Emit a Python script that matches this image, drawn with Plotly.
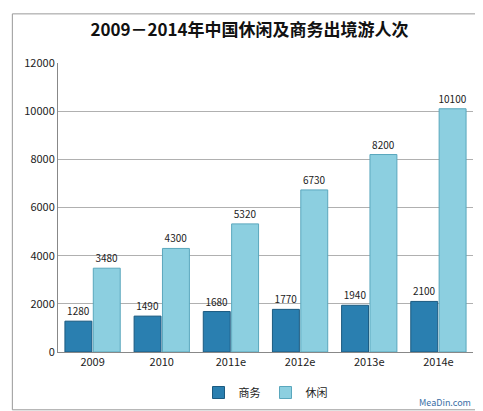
import plotly.graph_objects as go

years = ["2009", "2010", "2011e", "2012e", "2013e", "2014e"]
business = [1280, 1490, 1680, 1770, 1940, 2100]
leisure = [3480, 4300, 5320, 6730, 8200, 10100]

fig = go.Figure()
fig.add_trace(go.Bar(x=years, y=business, name="商务",
                     marker=dict(color="#2a7fb0", line=dict(color="#1b5a80", width=1)),
                     text=business, textposition="outside",
                     textfont=dict(size=10, color="#222")))
fig.add_trace(go.Bar(x=years, y=leisure, name="休闲",
                     marker=dict(color="#8ccfe0", line=dict(color="#5aa7bd", width=1)),
                     text=leisure, textposition="outside",
                     textfont=dict(size=10, color="#222")))

fig.update_layout(
    width=483, height=411,
    barmode="group", bargap=0.18, bargroupgap=0.05,
    uniformtext=dict(minsize=10, mode="show"),
    title=dict(text="<b>2009－2014年中国休闲及商务出境游人次</b>", x=0.5, y=0.96,
               font=dict(size=17, color="#111", family="Noto Sans CJK SC")),
    font=dict(family="Noto Sans CJK SC", size=11, color="#222"),
    paper_bgcolor="white", plot_bgcolor="white",
    margin=dict(l=50, r=18, t=55, b=62),
    yaxis=dict(range=[0, 12000], dtick=2000, tickformat="d", gridcolor="#b0b0b0",
               showline=True, linecolor="#888", ticks="", zeroline=False),
    xaxis=dict(showline=True, linecolor="#888"),
    legend=dict(orientation="h", x=0.5, xanchor="center", y=-0.09, yanchor="top",
                font=dict(size=11)),
    shapes=[dict(type="rect", xref="paper", yref="paper", x0=-0.11, x1=1.015,
                 y0=-0.2, y1=1.17, line=dict(color="#999", width=1))],
    annotations=[dict(text="MeaDin.com", x=1.0, y=-0.205, xref="paper", yref="paper",
                      xanchor="right", yanchor="bottom", showarrow=False,
                      font=dict(size=9, color="#3a6ea5"))],
)
fig.write_html("out.html")
